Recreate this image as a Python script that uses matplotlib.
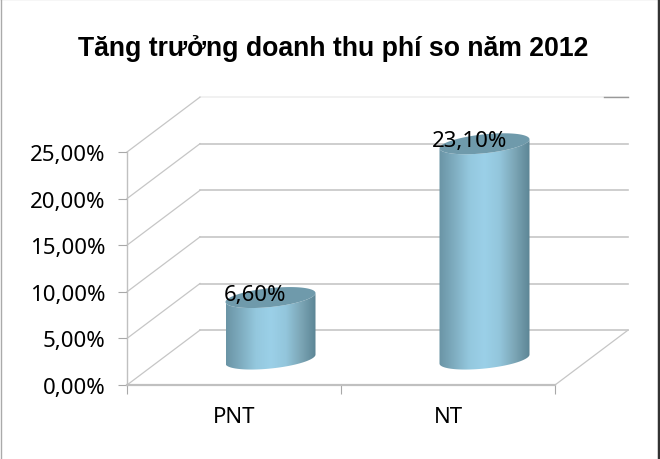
import numpy as np
import matplotlib
matplotlib.use("Agg")
import matplotlib.pyplot as plt
from matplotlib.colors import LinearSegmentedColormap
from matplotlib.patches import Polygon

categories = ["PNT", "NT"]
values = [6.6, 23.1]
value_labels = ["6,60%", "23,10%"]
y_ticks = [0, 5, 10, 15, 20, 25]
y_labels = ["0,00%", "5,00%", "10,00%", "15,00%", "20,00%", "25,00%"]
title = "Tăng trưởng doanh thu phí so năm 2012"

plt.rcParams["font.family"] = ["Noto Sans", "DejaVu Sans"]

W, H = 660, 460
fig = plt.figure(figsize=(W / 100, H / 100), dpi=100, facecolor="white")

# front plane of the fake 3d box, in pixels
left, right, bottom, top = 127, 555, 386, 153
ax = fig.add_axes([left / W, 1 - bottom / H, (right - left) / W, (bottom - top) / H])
ax.set_xlim(0, 2)
ax.set_ylim(0, 25)
ax.patch.set_visible(False)
for s in ax.spines.values():
    s.set_visible(False)

# depth of the box in data units
dx = 73 / 214
dy = 55 / 9.34

grid_c = "#c6c6c6"
for t in y_ticks:
    c = "#efefef" if t == 25 else grid_c
    ax.plot([dx, 2 + dx], [t + dy, t + dy], color=c, lw=1.2, clip_on=False, zorder=1)
    ax.plot([0, dx], [t, t + dy], color=grid_c, lw=0.9, clip_on=False, zorder=1)
ax.plot([2, 2 + dx], [0, dy], color=grid_c, lw=0.9, clip_on=False, zorder=1)
ax.plot([2 + dx - 0.11, 2 + dx], [25 + dy, 25 + dy], color="#999999", lw=1, clip_on=False, zorder=1)
ax.plot([0, 2], [0, 0], color="#c0c0c0", lw=1.6, clip_on=False, zorder=2)
ax.plot([0, 0], [0, 25], color="#c0c0c0", lw=1, clip_on=False, zorder=2)

ax.set_yticks(y_ticks)
ax.set_yticklabels(y_labels, fontsize=16, color="black")
ax.set_xticks([0, 1, 2])
ax.set_xticklabels([])
ax.set_xticks([0.5, 1.5], minor=True)
ax.set_xticklabels(categories, minor=True, fontsize=16, color="black")
ax.tick_params(axis="y", length=6.5, width=0.8, color="#a8a8a8", pad=9)
ax.tick_params(axis="x", which="major", length=6.5, width=0.8, color="#a8a8a8")
ax.tick_params(axis="x", which="minor", length=0, pad=15)

# cylinders
cmap = LinearSegmentedColormap.from_list(
    "cyl", ["#6a94a5", "#7fadc0", "#94c8de", "#9bd0e8", "#93c6dc", "#7ca6b6", "#5c8595"])
a = 45 / 214
b = 9.5 / 9.34
tilt = 4.5 / 9.34
base = 26 / 9.34
grad = np.linspace(0, 1, 256).reshape(1, -1)
th = np.linspace(0, 2 * np.pi, 121)
for i, v in enumerate(values):
    cx = i + 0.5 + dx / 2
    ex = cx + a * np.cos(th)
    ey = b * np.sin(th) + tilt * np.cos(th)
    # side: lower half of base ellipse + same edge shifted to the top
    low = np.sin(th) <= 1e-9
    lo_x, lo_y = ex[low], ey[low] + base
    order = np.argsort(lo_x)
    side = np.column_stack([
        np.r_[lo_x[order], lo_x[order][::-1]],
        np.r_[lo_y[order], lo_y[order][::-1] + v],
    ])
    poly = Polygon(side, closed=True, transform=ax.transData, fc="none", ec="none")
    ax.add_patch(poly)
    im = ax.imshow(grad, cmap=cmap, extent=[cx - a, cx + a, base - 3, base + v + 3],
                   aspect="auto", zorder=3)
    im.set_clip_path(poly)
    im.set_clip_box(fig.bbox)
    ax.fill(ex, ey + base + v, color="#6f9aab", zorder=4, clip_on=False, lw=0)
    ax.annotate(value_labels[i], (cx, base + v), xytext=(-11, 2.5), textcoords="offset points",
                ha="center", va="center", fontsize=16, color="black", zorder=5,
                annotation_clip=False)
ax.set_xlim(0, 2)
ax.set_ylim(0, 25)

fig.text(333 / W, 1 - 49 / H, title, ha="center", va="center", fontsize=19.2,
         fontweight="bold", family=["Liberation Sans", "DejaVu Sans"], color="black")

# picture frame
fig.add_artist(plt.Line2D([0, 1], [0.999, 0.999], color="#444444", lw=1.5))
fig.add_artist(plt.Line2D([0.0008, 0.0008], [0, 1], color="#aaaaaa", lw=1))
fig.add_artist(plt.Line2D([0.998, 0.998], [0, 1], color="#333333", lw=2.5))

fig.savefig("out.png", dpi=100)
